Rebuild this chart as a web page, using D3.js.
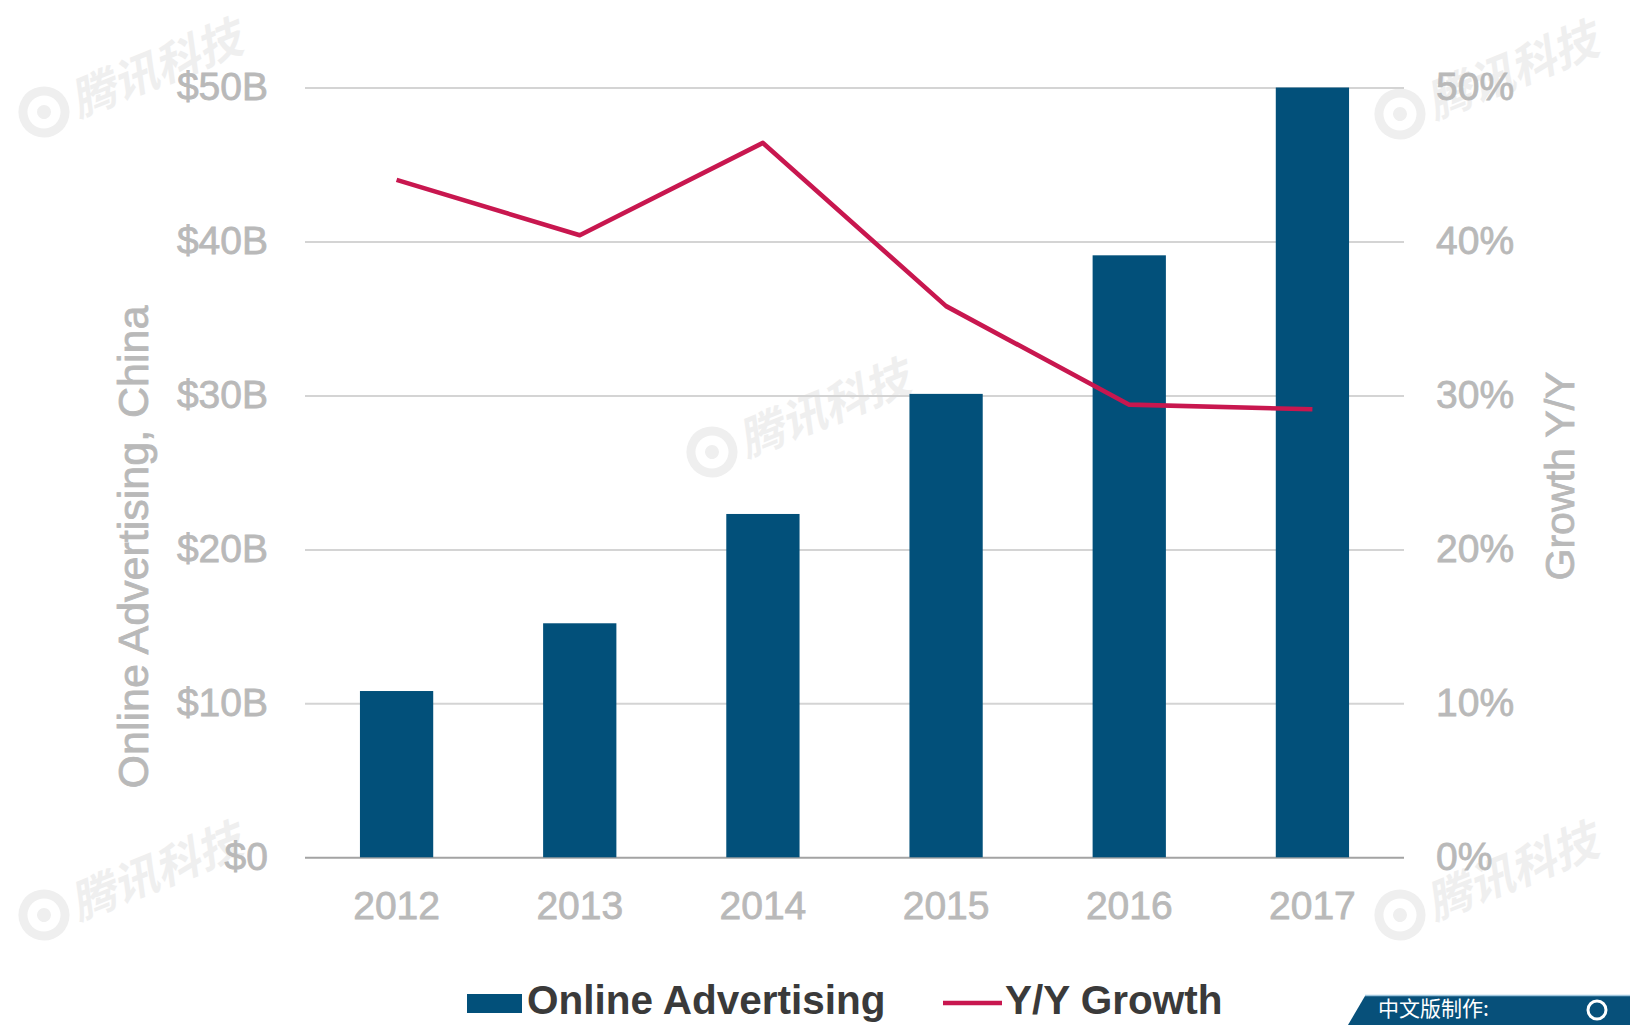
<!DOCTYPE html>
<html>
<head>
<meta charset="utf-8">
<script src="https://cdn.jsdelivr.net/npm/d3@7"></script>
<style>
  html, body { margin: 0; padding: 0; background: #ffffff; }
  svg { display: block; }
</style>
</head>
<body>
<svg id="chart" width="1630" height="1025"></svg>
<script>
// ---- Data ----
const years = ["2012", "2013", "2014", "2015", "2016", "2017"];
const adSpend = [10.8, 15.2, 22.3, 30.1, 39.1, 50.0];          // $B
const growth = [44.0, 40.4, 46.4, 35.8, 29.4, 29.1];           // %
const leftTicks = [0, 10, 20, 30, 40, 50];
const rightTicks = [0, 10, 20, 30, 40, 50];
const leftTitle = "Online Advertising, China";
const rightTitle = "Growth Y/Y";
const legendLabels = ["Online Advertising", "Y/Y Growth"];
const watermarkText = "腾讯科技";
const badgeText = "中文版制作:";

// ---- Styles ----
const barColor = "#02507a";
const lineColor = "#c8174f";
const labelColor = "#b9b9b9";
const gridColor = "#d4d4d4";
const font = "'Liberation Sans', Arial, Helvetica, sans-serif";

const svg = d3.select("#chart");
const x0 = 305, x1 = 1404, yBase = 857.3, yTop = 87.5;

const x = d3.scaleBand().domain(years).range([x0, x1]).paddingInner(0.6).paddingOuter(0.3);
const y = d3.scaleLinear().domain([0, 50]).range([yBase, yTop]);
const yR = d3.scaleLinear().domain([0, 50]).range([yBase, yTop]);

function grayText(sel, size) {
  sel.attr("fill", labelColor).attr("stroke", labelColor).attr("stroke-width", 0.8)
     .attr("font-family", font).attr("font-size", size);
}

// ---- Watermarks (behind everything) ----
const wm = svg.append("g").attr("class", "watermarks");
const wmPos = [[44, 112], [712, 452], [1400, 114], [44, 915], [1400, 915]];
wmPos.forEach(([cx, cy]) => {
  const g = wm.append("g").attr("transform", `translate(${cx},${cy}) rotate(-22)`);
  g.append("circle").attr("r", 21).attr("fill", "none").attr("stroke", "#efefef").attr("stroke-width", 9);
  g.append("circle").attr("r", 7).attr("fill", "#efefef");
  g.append("text").attr("x", 30).attr("y", 18)
    .attr("font-family", "'Noto Sans CJK SC', sans-serif").attr("font-weight", 700)
    .attr("font-size", 45).attr("font-style", "italic").attr("fill", "#efefef")
    .text(watermarkText);
});

// ---- Left axis with gridlines ----
const gL = svg.append("g").attr("transform", `translate(${x0},0)`)
  .call(d3.axisLeft(y).tickValues(leftTicks).tickSize(-(x1 - x0)).tickPadding(37)
    .tickFormat(d => "$" + d + (d === 0 ? "" : "B")));
gL.select(".domain").remove();
gL.selectAll(".tick line").attr("stroke", d => d === 0 ? "#a3a3a3" : gridColor).attr("stroke-width", 2);
gL.selectAll(".tick text").call(grayText, 39);

// ---- Right axis labels ----
const gR = svg.append("g").attr("transform", `translate(${x1},0)`)
  .call(d3.axisRight(yR).tickValues(rightTicks).tickSize(0).tickPadding(32).tickFormat(d => d + "%"));
gR.select(".domain").remove();
gR.selectAll(".tick text").call(grayText, 39);

// ---- Bottom axis labels ----
const gB = svg.append("g").attr("transform", `translate(0,${yBase})`)
  .call(d3.axisBottom(x).tickSize(0).tickPadding(34));
gB.select(".domain").remove();
gB.selectAll(".tick text").call(grayText, 39);

// ---- Bars ----
svg.append("g").selectAll("rect").data(years).join("rect")
  .attr("x", d => x(d))
  .attr("width", x.bandwidth())
  .attr("y", (d, i) => y(adSpend[i]))
  .attr("height", (d, i) => y(0) - y(adSpend[i]))
  .attr("fill", barColor);

// ---- Line ----
const line = d3.line()
  .x((d, i) => x(years[i]) + x.bandwidth() / 2)
  .y(d => yR(d));
svg.append("path").datum(growth)
  .attr("d", line)
  .attr("fill", "none")
  .attr("stroke", lineColor)
  .attr("stroke-width", 4.6)
  .attr("stroke-linejoin", "round");

// ---- Axis titles ----
svg.append("text")
  .attr("transform", `translate(148,547) rotate(-90)`)
  .attr("text-anchor", "middle")
  .call(grayText, 43)
  .text(leftTitle);
svg.append("text")
  .attr("transform", `translate(1574,476) rotate(-90)`)
  .attr("text-anchor", "middle")
  .call(grayText, 41)
  .text(rightTitle);

// ---- Legend ----
const lg = svg.append("g");
lg.append("rect").attr("x", 467).attr("y", 994).attr("width", 55).attr("height", 19).attr("fill", barColor);
lg.append("text").attr("x", 527).attr("y", 1014)
  .attr("font-family", font).attr("font-weight", 700).attr("font-size", 40.5).attr("fill", "#3a3a3a")
  .text(legendLabels[0]);
lg.append("line").attr("x1", 943).attr("x2", 1002).attr("y1", 1003).attr("y2", 1003)
  .attr("stroke", lineColor).attr("stroke-width", 4.6);
lg.append("text").attr("x", 1005).attr("y", 1014)
  .attr("font-family", font).attr("font-weight", 700).attr("font-size", 40.5).attr("fill", "#3a3a3a")
  .text(legendLabels[1]);

// ---- Bottom-right badge ----
const bd = svg.append("g");
bd.append("path").attr("d", "M1365,996 L1630,996 L1630,1025 L1348,1025 Z").attr("fill", "#07507a");
bd.append("line").attr("x1", 1365).attr("x2", 1630).attr("y1", 995.5).attr("y2", 995.5)
  .attr("stroke", "#9fc6de").attr("stroke-width", 1.5);
bd.append("text").attr("x", 1378).attr("y", 1016)
  .attr("font-family", "'Noto Sans CJK SC', sans-serif").attr("font-size", 21).attr("fill", "#ffffff")
  .text(badgeText);
bd.append("circle").attr("cx", 1597).attr("cy", 1010).attr("r", 9).attr("fill", "none")
  .attr("stroke", "#ffffff").attr("stroke-width", 3);
</script>
</body>
</html>
